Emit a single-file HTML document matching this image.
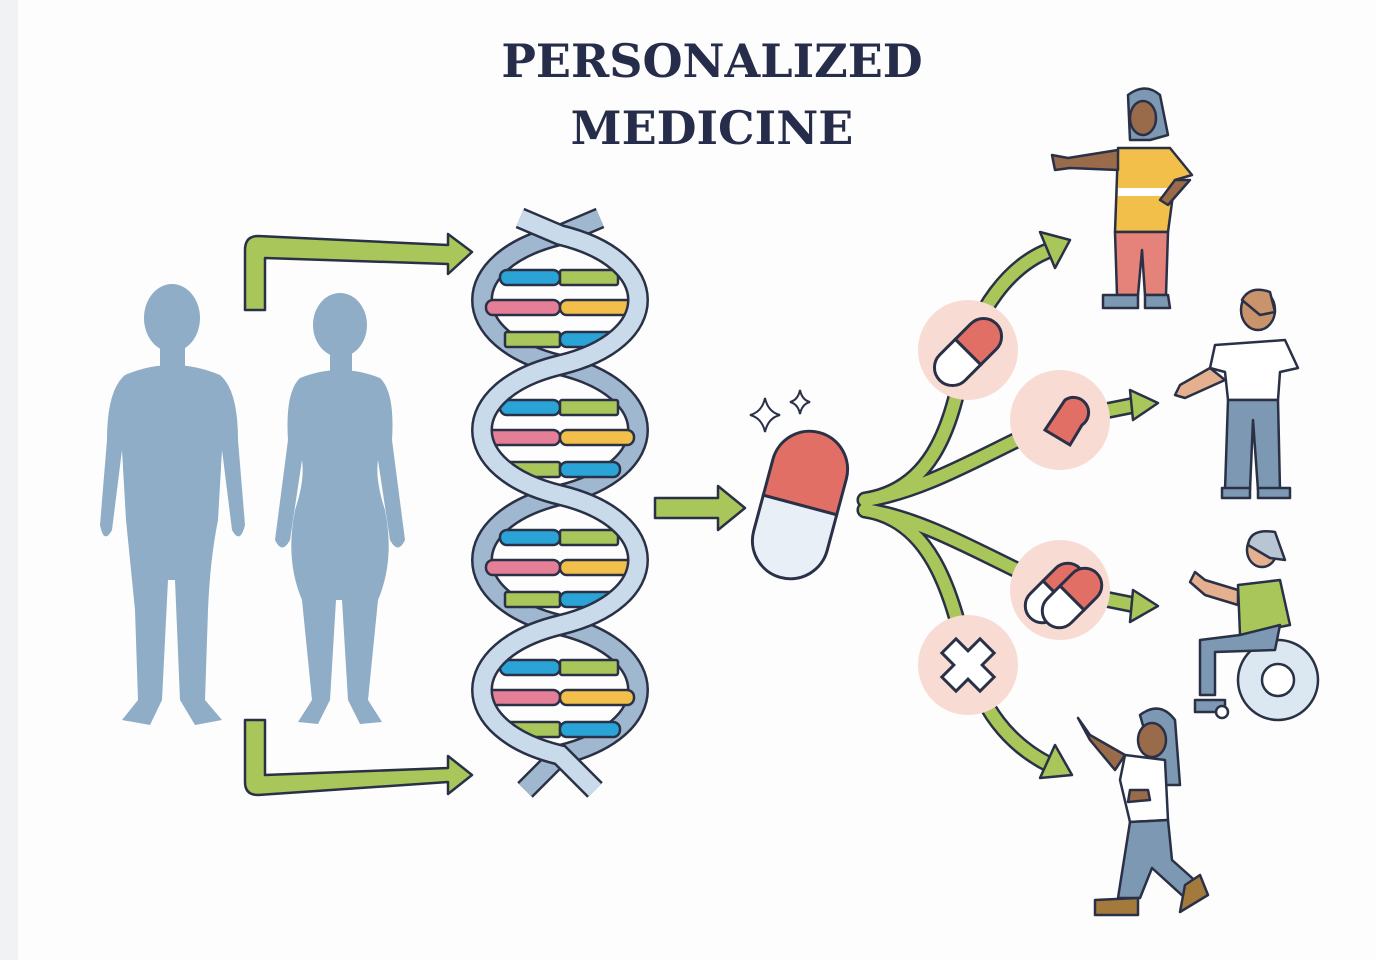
<!DOCTYPE html>
<html><head><meta charset="utf-8"><style>
html,body{margin:0;padding:0;background:#fdfdfd;}
svg{display:block}
</style></head><body>
<svg width="1376" height="960" viewBox="0 0 1376 960" xmlns="http://www.w3.org/2000/svg">
<rect width="1376" height="960" fill="#fdfdfd"/>
<rect x="0" y="0" width="18" height="960" fill="#f1f2f3"/>
<text x="712" y="77" text-anchor="middle" font-family="DejaVu Serif, Liberation Serif, serif" font-weight="bold" font-size="46" fill="#262d4a">PERSONALIZED</text>
<text x="712" y="144" text-anchor="middle" font-family="DejaVu Serif, Liberation Serif, serif" font-weight="bold" font-size="46" fill="#262d4a">MEDICINE</text>

<!-- silhouettes -->
<g fill="#8fadc6">
 <ellipse cx="172" cy="318" rx="28" ry="34"/>
 <rect x="160" y="345" width="25" height="25"/>
 <path d="M125,375 Q172,355 220,375 Q238,390 238,440 L245,525 Q240,545 232,530 L222,450 L218,520 Q210,560 208,610 L205,700 L222,720 L195,725 L180,700 L175,580 L168,580 L162,700 L150,725 L122,720 L138,700 L135,610 Q130,560 126,520 L122,450 L112,530 Q104,545 100,525 L107,440 Q107,390 125,375Z"/>
 <ellipse cx="340" cy="325" rx="27" ry="32"/>
 <rect x="330" y="350" width="22" height="25"/>
 <path d="M300,378 Q340,362 380,378 Q395,392 392,440 L405,540 Q398,555 390,540 L378,460 Q375,480 385,510 Q395,560 378,600 L368,700 L382,722 L360,724 L348,700 L342,600 L336,600 L330,700 L318,724 L298,722 L312,700 L302,600 Q285,560 295,510 Q305,480 302,460 L290,540 Q282,555 275,540 L288,440 Q285,392 300,378Z"/>
</g>

<!-- L arrows -->
<g fill="#a8c65a" stroke="#2a3147" stroke-width="2.5" stroke-linejoin="round">
 <path d="M245,310 L265,310 L265,258 L448,264 L448,274 L472,252 L448,234 L448,245 L258,236 Q245,236 245,250 Z"/>
 <path d="M245,720 L265,720 L265,778 L448,772 L448,782 L472,772 L448,758 L448,765 L258,772 Q245,772 245,772 L245,795 L258,797 L448,786 Z" fill="none" stroke="none"/>
 <path d="M245,720 L265,720 L265,775 L448,768 L448,756 L472,775 L448,794 L448,782 L258,795 Q245,795 245,782 Z"/>
 <path d="M655,498 L718,498 L718,486 L745,508 L718,530 L718,518 L655,518 Z"/>
</g>

<!-- DNA -->
<g fill="none" stroke-linecap="butt">
 <path d="M600,218 L560,235 C456,260 456,340 560,365 C664,390 664,470 560,495 C456,520 456,600 560,625 C664,650 664,730 560,755 L525,790" stroke="#2a3147" stroke-width="22"/>
 <path d="M600,218 L560,235 C456,260 456,340 560,365 C664,390 664,470 560,495 C456,520 456,600 560,625 C664,650 664,730 560,755 L525,790" stroke="#9fb7cf" stroke-width="17"/>
</g>
<g stroke="#2a3147" stroke-width="2.5">
 <!-- lobe rungs -->
 <g id="l1">
  <rect x="500" y="270" width="60" height="15" rx="7" fill="#2aa3d6"/><rect x="560" y="270" width="58" height="15" rx="2" fill="#a8c65a"/>
  <rect x="486" y="300" width="74" height="15" rx="7" fill="#e57f97"/><rect x="560" y="300" width="74" height="15" rx="7" fill="#f2bf4b"/>
  <rect x="505" y="332" width="55" height="15" rx="2" fill="#a8c65a"/><rect x="560" y="332" width="60" height="15" rx="7" fill="#2aa3d6"/>
 </g>
 <use href="#l1" y="130"/><use href="#l1" y="260"/><use href="#l1" y="390"/>
</g>
<g fill="none">
 <path d="M520,218 L560,235 C664,260 664,340 560,365 C456,390 456,470 560,495 C664,520 664,600 560,625 C456,650 456,730 560,755 L595,790" stroke="#2a3147" stroke-width="22"/>
 <path d="M520,218 L560,235 C664,260 664,340 560,365 C456,390 456,470 560,495 C664,520 664,600 560,625 C456,650 456,730 560,755 L595,790" stroke="#c9dbea" stroke-width="17"/>
</g>

<!-- sparkles -->
<g fill="#fff" stroke="#2a3147" stroke-width="2">
 <path d="M765,398 Q768,412 780,415 Q768,418 765,432 Q762,418 750,415 Q762,412 765,398Z"/>
 <path d="M800,390 Q802,400 810,402 Q802,404 800,414 Q798,404 790,402 Q798,400 800,390Z"/>
</g>

<!-- pill -->
<g transform="rotate(15 800 505)" stroke="#2a3147" stroke-width="3">
 <path d="M762,505 L762,468 A38,38 0 0 1 838,468 L838,505 Z" fill="#e26f66"/>
 <path d="M762,505 L838,505 L838,542 A38,38 0 0 1 762,542 Z" fill="#e9eff7"/>
</g>

<!-- branches -->
<g fill="none" stroke-linecap="round">
 <g stroke="#2a3147" stroke-width="17">
  <path d="M865,500 C930,490 950,430 962,370 C975,310 1010,265 1050,250"/>
  <path d="M865,500 C930,490 990,450 1060,420 L1135,405"/>
  <path d="M865,510 C930,520 990,560 1060,590 L1135,605"/>
  <path d="M865,510 C930,520 950,590 965,650 C980,710 1010,745 1050,765"/>
 </g>
 <g stroke="#a8c65a" stroke-width="12">
  <path d="M865,500 C930,490 950,430 962,370 C975,310 1010,265 1050,250"/>
  <path d="M865,500 C930,490 990,450 1060,420 L1135,405"/>
  <path d="M865,510 C930,520 990,560 1060,590 L1135,605"/>
  <path d="M865,510 C930,520 950,590 965,650 C980,710 1010,745 1050,765"/>
 </g>
</g>
<g fill="#a8c65a" stroke="#2a3147" stroke-width="2.5" stroke-linejoin="round">
 <polygon points="1040,232 1070,240 1055,268"/>
 <polygon points="1130,390 1158,403 1133,420"/>
 <polygon points="1133,590 1158,606 1130,622"/>
 <polygon points="1055,745 1072,775 1040,778"/>
</g>

<!-- circles -->
<g fill="#f8dcd3">
 <circle cx="968" cy="350" r="50"/><circle cx="1060" cy="420" r="50"/>
 <circle cx="1060" cy="590" r="50"/><circle cx="968" cy="665" r="50"/>
</g>
<g stroke="#2a3147" stroke-width="3">
 <g transform="rotate(45 968 352)">
  <path d="M950,352 L950,330 A18,18 0 0 1 986,330 L986,352Z" fill="#e26f66"/>
  <path d="M950,352 L986,352 L986,374 A18,18 0 0 1 950,374Z" fill="#fff"/>
 </g>
 <path d="M1045,430 L1065,400 A15,15 0 0 1 1082,425 L1070,445 Z" fill="#e26f66"/>
 <g transform="rotate(45 1055 593)">
  <path d="M1038,593 L1038,575 A17,17 0 0 1 1072,575 L1072,593Z" fill="#e26f66"/>
  <path d="M1038,593 L1072,593 L1072,611 A17,17 0 0 1 1038,611Z" fill="#fff"/>
 </g>
 <g transform="rotate(45 1072 598)">
  <path d="M1055,598 L1055,580 A17,17 0 0 1 1089,580 L1089,598Z" fill="#e26f66"/>
  <path d="M1055,598 L1089,598 L1089,616 A17,17 0 0 1 1055,616Z" fill="#fff"/>
 </g>
 <path d="M958,638 L978,638 L978,655 L995,655 L995,675 L978,675 L978,692 L958,692 L958,675 L941,675 L941,655 L958,655Z" fill="#fff" transform="rotate(45 968 665)"/>
</g>

<!-- people -->
<g stroke="#2a3147" stroke-width="2.5" stroke-linejoin="round">
 <!-- woman top -->
 <path d="M1128,95 Q1145,82 1160,95 L1168,135 L1150,140 L1130,140 Z" fill="#7d98b3"/>
 <ellipse cx="1143" cy="118" rx="13" ry="17" fill="#9a6b4b"/>
 <path d="M1118,148 L1170,148 L1192,175 L1175,180 L1168,232 L1115,232 Z" fill="#f2bf4b"/>
 <rect x="1118" y="188" width="50" height="8" fill="#fff" stroke="none"/>
 <path d="M1118,150 L1068,158 L1052,155 L1055,170 L1070,168 L1118,170Z" fill="#9a6b4b"/>
 <path d="M1175,180 L1160,200 L1168,205 L1190,180Z" fill="#9a6b4b"/>
 <path d="M1115,232 L1168,232 L1166,295 L1145,295 L1142,250 L1138,295 L1117,295 Z" fill="#e5837a"/>
 <path d="M1103,295 L1138,295 L1138,308 L1103,308Z M1145,295 L1168,295 L1170,308 L1145,308Z" fill="#7d98b3"/>
 <!-- man 2 -->
 <ellipse cx="1258" cy="310" rx="17" ry="20" fill="#c9936b"/>
 <path d="M1242,300 Q1250,285 1270,292 L1275,312 L1260,315Z" fill="#c9936b"/>
 <path d="M1215,345 L1285,340 L1298,368 L1280,372 L1278,400 L1228,400 L1225,372 L1210,368Z" fill="#fff"/>
 <path d="M1210,368 L1180,385 L1175,395 L1185,398 L1225,380Z" fill="#e4b090"/>
 <path d="M1228,400 L1278,400 L1280,490 L1258,490 L1253,420 L1250,490 L1225,490Z" fill="#7d98b3"/>
 <path d="M1222,488 L1250,488 L1250,498 L1222,498Z M1258,488 L1290,488 L1290,498 L1258,498Z" fill="#7d98b3"/>
 <!-- wheelchair person -->
 <circle cx="1278" cy="680" r="40" fill="#dbe7f1"/>
 <circle cx="1278" cy="680" r="16" fill="#fff"/>
 <ellipse cx="1262" cy="550" rx="15" ry="17" fill="#e4b090"/>
 <path d="M1248,545 Q1250,528 1275,532 L1285,560 L1270,558Z" fill="#b8c6d3"/>
 <path d="M1238,585 L1280,580 L1290,625 L1240,635Z" fill="#a8c65a"/>
 <path d="M1240,635 L1280,625 L1275,650 L1215,652 L1215,695 L1200,695 L1200,640Z" fill="#7d98b3"/>
 <path d="M1195,700 L1225,700 L1225,712 L1195,712Z" fill="#7d98b3"/>
 <path d="M1238,590 L1205,580 L1195,572 L1190,582 L1205,595 L1238,605Z" fill="#e4b090"/>
 <circle cx="1222" cy="712" r="6" fill="#fff"/>
 <!-- walking woman -->
 <path d="M1140,715 Q1160,700 1175,720 L1180,785 L1160,785 Z" fill="#7d98b3"/>
 <ellipse cx="1152" cy="740" rx="14" ry="17" fill="#9a6b4b"/>
 <path d="M1125,755 L1165,760 L1168,820 L1130,822 L1120,780Z" fill="#fff"/>
 <path d="M1125,755 L1090,735 L1078,718 L1090,740 L1115,770Z" fill="#9a6b4b"/>
 <path d="M1130,790 L1148,790 L1150,800 L1128,802Z" fill="#9a6b4b"/>
 <path d="M1130,822 L1168,820 L1172,860 L1200,885 L1185,898 L1152,868 L1140,898 L1118,898 Z" fill="#7d98b3"/>
 <path d="M1095,900 L1138,898 L1138,915 L1095,915Z M1185,885 L1200,875 L1208,895 L1180,912Z" fill="#a47a3c"/>
</g>
</svg>
</body></html>
